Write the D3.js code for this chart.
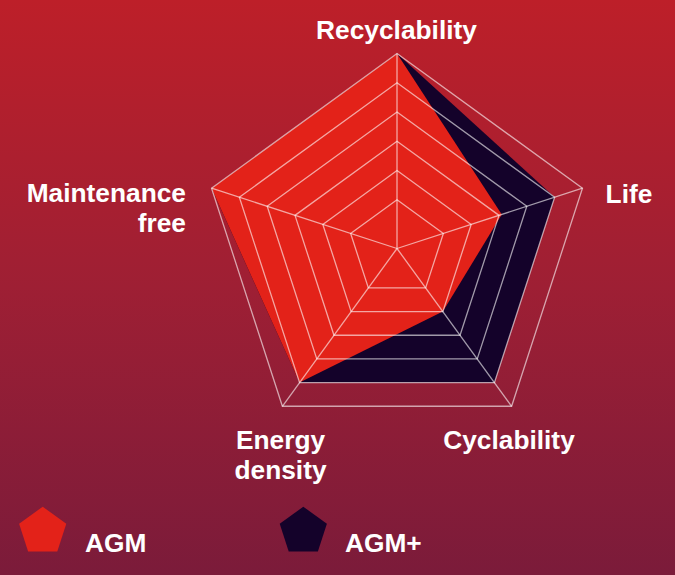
<!DOCTYPE html>
<html><head><meta charset="utf-8">
<script src="https://cdn.jsdelivr.net/npm/d3@7"></script>
<style>html,body{margin:0;padding:0;}svg{display:block;}</style>
</head><body>
<script>
const axes = ["Recyclability", "Life", "Cyclability", "Energy density", "Maintenance free"];
const agm = [6, 3.1, 2, 5, 6];
const agmPlus = [6, 5, 5, 5, 6];
const ringTicks = [1, 2, 3, 4, 5, 6];
const seriesNames = ["AGM", "AGM+"];
const seriesColors = ["#e32219", "#14022a"];

const W = 675, H = 575, cx = 397, cy = 248.5, R = 195;
const svg = d3.select("body").append("svg").attr("width", W).attr("height", H);
const defs = svg.append("defs");
const g = defs.append("linearGradient").attr("id", "bg").attr("x1", 0).attr("y1", 0).attr("x2", 0).attr("y2", 1);
g.append("stop").attr("offset", "0%").attr("stop-color", "#bd1f29");
g.append("stop").attr("offset", "50%").attr("stop-color", "#9e1f34");
g.append("stop").attr("offset", "100%").attr("stop-color", "#7b1b3a");
svg.append("rect").attr("width", W).attr("height", H).attr("fill", "url(#bg)");

const r = d3.scaleLinear().domain([-2/3, 6]).range([0, R]);
const angle = d3.scalePoint().domain(axes).range([0, 2 * Math.PI * (axes.length - 1) / axes.length]);
const pt = (a, v) => { const t = angle(a) - Math.PI / 2; return [cx + r(v) * Math.cos(t), cy + r(v) * Math.sin(t)]; };

const line = d3.line().curve(d3.curveLinearClosed);
const plot = svg.append("g");
[[agmPlus, seriesColors[1]], [agm, seriesColors[0]]].forEach(([vals, col]) => {
  plot.append("path").attr("d", line(axes.map((a, i) => pt(a, vals[i])))).attr("fill", col);
});

const grid = svg.append("g").attr("fill", "none").attr("stroke", "rgba(255,255,255,0.6)").attr("stroke-width", 1.3);
ringTicks.forEach(t => grid.append("path").attr("d", line(axes.map(a => pt(a, t)))));
axes.forEach(a => { const p = pt(a, 6); grid.append("line").attr("x1", cx).attr("y1", cy).attr("x2", p[0]).attr("y2", p[1]); });

const labels = [
  {lines: ["Recyclability"], x: 396.5, y: 39, anchor: "middle"},
  {lines: ["Life"], x: 629, y: 203, anchor: "middle"},
  {lines: ["Cyclability"], x: 509, y: 449, anchor: "middle"},
  {lines: ["Energy", "density"], x: 280.5, y: 449, anchor: "middle"},
  {lines: ["Maintenance", "free"], x: 186, y: 202, anchor: "end"}
];
const lab = svg.append("g").attr("fill", "#fff").attr("font-family", "Liberation Sans, Arial, sans-serif").attr("font-weight", "bold").attr("font-size", 26.3);
labels.forEach((l, i) => {
  const t = lab.append("text").attr("text-anchor", l.anchor).attr("x", l.x).attr("y", l.y);
  l.lines.forEach((s, j) => t.append("tspan").attr("x", l.x).attr("dy", j ? 30 : 0).text(s));
});

function pent(x, y, rr) {
  return line(d3.range(5).map(k => { const t = -Math.PI / 2 + k * 2 * Math.PI / 5; return [x + rr * Math.cos(t), y + rr * Math.sin(t)]; }));
}
const legX = [42.7, 303.3], legText = [85, 345];
seriesNames.forEach((n, i) => {
  svg.append("path").attr("d", pent(legX[i], 531.5, 24.8)).attr("fill", seriesColors[i]);
  lab.append("text").attr("x", legText[i]).attr("y", 551.5).text(n);
});
</script>
</body></html>
